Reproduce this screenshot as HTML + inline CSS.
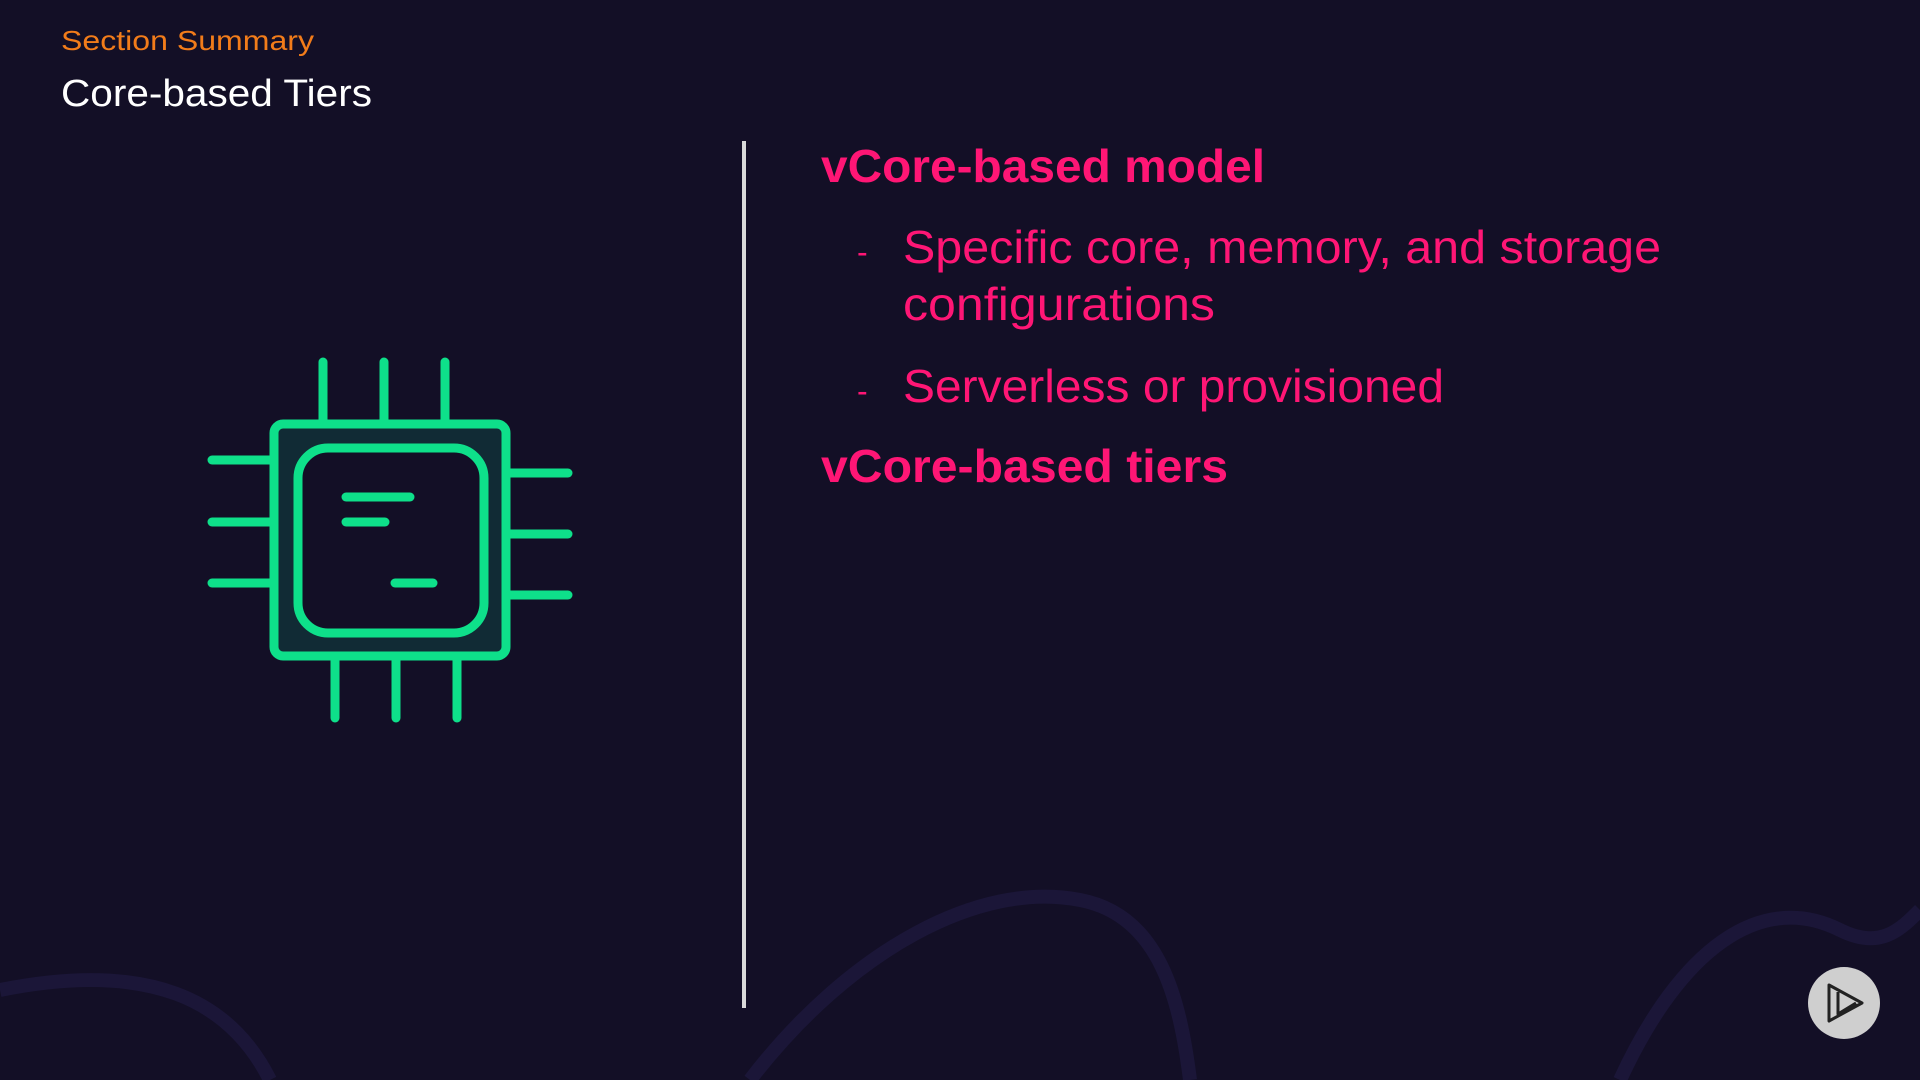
<!DOCTYPE html>
<html><head><meta charset="utf-8"><style>
html,body{margin:0;padding:0;background:#130f26;}
body{width:1920px;height:1080px;overflow:hidden;position:relative;}
svg{position:absolute;left:0;top:0;}
text{font-family:"Liberation Sans",sans-serif;}
</style></head><body>
<svg width="1920" height="1080" viewBox="0 0 1920 1080">
<rect width="1920" height="1080" fill="#130f26"/>
<path d="M0 990 C150 960 230 1000 270 1080" stroke="#1b1638" stroke-width="14" fill="none"/>
<path d="M750 1080 C850 950 980 880 1080 900 C1160 915 1180 1000 1190 1080" stroke="#1b1638" stroke-width="14" fill="none"/>
<path d="M1620 1080 C1680 950 1760 890 1840 930 C1880 950 1900 930 1920 910" stroke="#1b1638" stroke-width="14" fill="none"/>
<text x="61" y="50" font-size="28" fill="#f27c1a" textLength="253" lengthAdjust="spacingAndGlyphs">Section Summary</text>
<text x="61" y="106" font-size="38" fill="#ffffff" textLength="311" lengthAdjust="spacingAndGlyphs">Core-based Tiers</text>
<rect x="742" y="141" width="4" height="867" fill="#d9d9d9"/>
<g fill="#ff1675">
<text x="821" y="182" font-size="46" font-weight="bold" textLength="444" lengthAdjust="spacingAndGlyphs">vCore-based model</text>
<text x="857" y="263" font-size="32">-</text>
<text x="903" y="263" font-size="46" textLength="758" lengthAdjust="spacingAndGlyphs">Specific core, memory, and storage</text>
<text x="903" y="320" font-size="46" textLength="312" lengthAdjust="spacingAndGlyphs">configurations</text>
<text x="857" y="402" font-size="32">-</text>
<text x="903" y="402" font-size="46" textLength="541" lengthAdjust="spacingAndGlyphs">Serverless or provisioned</text>
<text x="821" y="482" font-size="46" font-weight="bold" textLength="407" lengthAdjust="spacingAndGlyphs">vCore-based tiers</text>
</g>
<g stroke="#0ee08a" stroke-width="9" stroke-linecap="round" fill="none">
<rect x="274" y="424" width="232" height="232" rx="9" fill="#112b35"/>
<rect x="298" y="448" width="186" height="185" rx="30" fill="#130f26"/>
<line x1="323" y1="362" x2="323" y2="420"/><line x1="384" y1="362" x2="384" y2="420"/><line x1="445" y1="362" x2="445" y2="420"/>
<line x1="335" y1="660" x2="335" y2="718"/><line x1="396" y1="660" x2="396" y2="718"/><line x1="457" y1="660" x2="457" y2="718"/>
<line x1="212" y1="460" x2="270" y2="460"/><line x1="212" y1="522" x2="270" y2="522"/><line x1="212" y1="583" x2="270" y2="583"/>
<line x1="510" y1="473" x2="568" y2="473"/><line x1="510" y1="534" x2="568" y2="534"/><line x1="510" y1="595" x2="568" y2="595"/>
<line x1="346" y1="497" x2="410" y2="497"/><line x1="346" y1="522" x2="385" y2="522"/><line x1="395" y1="583" x2="433" y2="583"/>
</g>
<circle cx="1844" cy="1003" r="36" fill="#cfcfcf"/>
<path d="M1829 985 L1862 1003 L1829 1021 Z M1838 992 L1838 1014 L1856 1003" stroke="#222" stroke-width="3" fill="none" stroke-linejoin="round"/>
</svg>
</body></html>
